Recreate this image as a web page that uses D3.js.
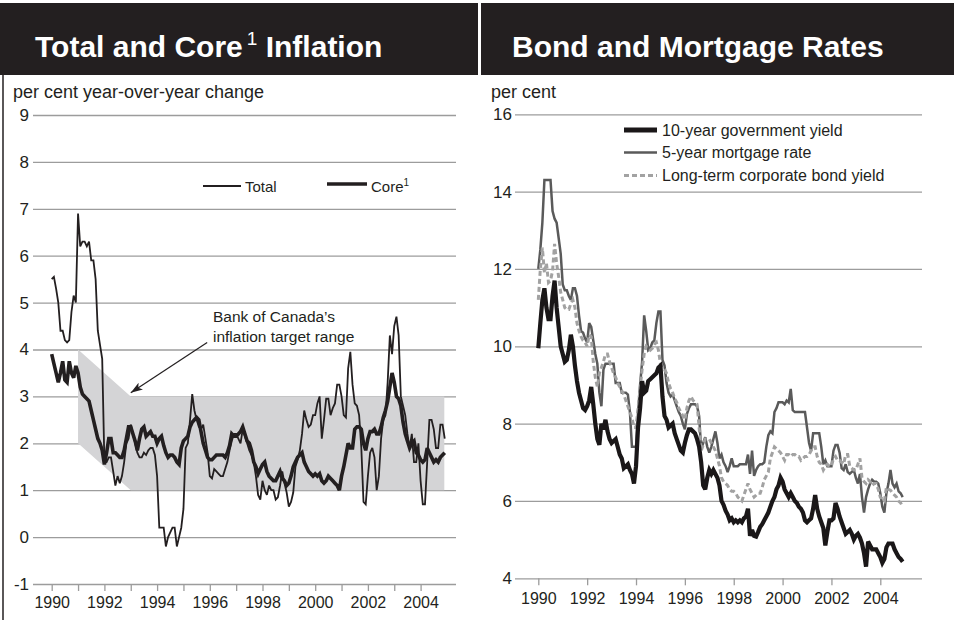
<!DOCTYPE html>
<html lang="en">
<head>
    <meta charset="UTF-8">
    <title>Total and Core Inflation / Bond and Mortgage Rates</title>
    <!-- Load d3.js -->
    <script src="https://d3js.org/d3.v7.min.js"></script>
    <style>
        body { margin: 0; background: #fff; }
        svg text { font-family: "Liberation Sans", Arial, Helvetica, sans-serif; fill: #231f20; }
    </style>
</head>
<body>

<div id="my_chart"></div>

<script>
    // monthly series, Jan 1990 to Dec 2004 (12 values per row)
    var startYear = 1990;

    var total = [
        5.5, 5.55, 5.3, 5.0, 4.4, 4.4, 4.2, 4.15, 4.2, 4.8, 5.15, 5.0,
        6.9, 6.2, 6.3, 6.3, 6.2, 6.3, 5.9, 5.9, 5.5, 4.4, 4.1, 3.8,
        1.6, 1.6, 1.7, 1.7, 1.4, 1.1, 1.3, 1.15, 1.3, 1.6, 2.0, 2.1,
        2.4, 2.2, 2.0, 1.8, 1.7, 1.7, 1.8, 1.75, 1.85, 1.9, 1.9, 1.75,
        1.3, 0.2, 0.2, 0.2, -0.2, 0.0, 0.1, 0.2, 0.2, -0.2, 0.0, 0.2,
        0.6, 1.9, 2.0, 2.5, 3.05, 2.7, 2.5, 2.35, 2.3, 2.4, 2.1, 1.8,
        1.3, 1.25, 1.45, 1.4, 1.35, 1.3, 1.3, 1.45, 1.6, 1.85, 2.05, 2.2,
        2.2, 2.1, 2.0, 2.3, 2.15, 2.0, 1.85, 1.75, 1.6, 1.3, 0.9, 0.8,
        1.2, 1.0, 0.9, 1.1, 1.0, 1.0, 0.8, 0.85, 1.1, 1.4, 1.15, 0.95,
        0.65, 0.75, 0.95, 1.5, 1.65, 1.85, 2.2, 2.7, 2.5, 2.35, 2.4, 2.6,
        2.6, 2.85, 3.0, 2.1, 2.5, 2.95, 2.95, 2.6, 2.75, 2.85, 3.25, 3.25,
        3.0, 2.6, 2.55, 3.6, 3.95, 3.25, 2.85, 2.8, 2.6, 1.9, 0.75, 0.7,
        1.3, 1.8, 1.9, 1.7, 1.0, 1.3, 2.1, 2.5, 2.6, 3.3, 4.3, 3.9,
        4.5, 4.7, 4.3, 3.0, 2.8, 2.6, 2.2, 1.9, 2.2, 1.6, 1.6, 2.0,
        1.2, 0.7, 0.7, 1.6, 2.5, 2.5, 2.3, 1.9, 1.9, 2.4, 2.4, 2.1
    ];

    var core = [
        3.9, 3.7, 3.5, 3.3, 3.5, 3.75, 3.35, 3.3, 3.75, 3.5, 3.4, 3.65,
        3.5, 3.2, 3.05, 3.0, 2.95, 2.9, 2.7, 2.5, 2.3, 2.1, 2.0, 1.85,
        1.55, 1.8, 2.1, 2.1, 1.8, 1.8, 1.75, 1.7, 1.7, 1.85, 2.1, 2.35,
        2.35, 2.2, 2.05, 1.85, 2.1, 2.3, 2.35, 2.15, 2.2, 2.25, 2.15, 2.15,
        2.0, 2.1, 2.15, 1.95, 1.8, 1.7, 1.75, 1.75, 1.7, 1.6, 1.55, 1.9,
        2.05, 2.1, 2.15, 2.35, 2.45, 2.5, 2.55, 2.5, 2.25, 2.0, 1.85, 1.7,
        1.65, 1.65, 1.7, 1.75, 1.75, 1.75, 1.75, 1.7, 1.8, 1.95, 2.2, 2.15,
        2.15, 2.2, 2.25, 2.35, 2.2, 2.05, 2.0, 1.85, 1.6, 1.5, 1.35, 1.45,
        1.55, 1.6, 1.4, 1.3, 1.25, 1.2, 1.2, 1.3, 1.4, 1.25, 1.2, 1.1,
        1.15, 1.3, 1.5, 1.6, 1.7, 1.75, 1.8, 1.6, 1.5, 1.4, 1.35, 1.3,
        1.35, 1.3, 1.35, 1.2, 1.15, 1.2, 1.3, 1.25, 1.2, 1.15, 1.1, 1.0,
        1.3, 1.5, 1.75, 2.0, 1.9, 1.9, 2.3, 2.35, 2.35, 2.3, 2.0, 1.85,
        2.1, 2.25, 2.25, 2.3, 2.2, 2.2, 2.35, 2.55, 2.7, 2.9, 3.2, 3.5,
        3.3, 3.0, 2.95, 2.8, 2.45, 2.2, 2.05, 1.9, 2.0, 2.05, 1.8, 1.75,
        1.65, 1.6, 1.65, 1.9, 1.8, 1.7, 1.6, 1.65, 1.6, 1.7, 1.75, 1.8
    ];

    var govYield = [
        9.95, 10.6, 11.2, 11.5, 11.0, 10.7, 10.7, 11.3, 11.7, 11.0, 10.5, 10.0,
        9.8, 9.6, 9.65, 9.9, 10.3, 10.0, 9.5, 9.1, 8.8, 8.6, 8.4, 8.35,
        8.45, 8.6, 8.95, 8.5, 8.0, 7.6, 7.45, 8.0, 7.85, 8.1, 7.8, 7.6,
        7.5, 7.55, 7.6, 7.4, 7.2, 7.1, 6.85, 6.9, 6.95, 6.8, 6.7, 6.45,
        6.9, 7.9, 8.4, 9.1, 8.8, 8.85, 9.1, 9.15, 9.2, 9.25, 9.3, 9.45,
        9.5, 8.7, 8.2, 8.1, 7.9, 7.95, 8.0, 7.75, 7.6, 7.45, 7.3, 7.25,
        7.5, 7.7, 7.85, 7.85, 7.8, 7.75, 7.6, 7.4, 7.0, 6.4, 6.3, 6.6,
        6.8, 6.7, 6.8, 6.7, 6.6, 6.4, 6.0, 5.9, 5.75, 5.65, 5.5, 5.55,
        5.45, 5.5, 5.45, 5.5, 5.45, 5.55, 5.6, 5.8, 5.1, 5.25, 5.1, 5.08,
        5.2, 5.33, 5.4, 5.5, 5.6, 5.7, 5.85, 6.0, 6.1, 6.3, 6.4, 6.6,
        6.5, 6.3, 6.2, 6.1, 6.2, 6.1, 6.0, 5.95, 5.85, 5.8, 5.7, 5.5,
        5.45, 5.5, 5.55, 5.8, 6.15, 5.8, 5.6, 5.45, 5.3, 4.85, 5.2, 5.5,
        5.5, 5.55, 5.95, 5.8, 5.6, 5.45, 5.3, 5.15, 5.2, 5.25, 5.15, 5.0,
        5.1, 5.15, 5.05, 4.9, 4.65, 4.3, 4.95, 4.85, 4.75, 4.75, 4.75, 4.65,
        4.55, 4.4, 4.5, 4.8, 4.9, 4.9, 4.9, 4.75, 4.65, 4.55, 4.5, 4.43
    ];

    var mortgage = [
        12.0, 12.5, 13.2, 14.3, 14.3, 14.3, 14.3, 13.5, 13.3, 13.2, 12.8, 12.4,
        11.6, 11.45, 11.45, 11.3, 11.2, 11.5, 11.5, 11.3, 10.8, 10.4, 10.35, 10.2,
        10.1, 10.6, 10.5, 10.15, 9.8, 9.55, 8.8, 8.45, 9.4, 9.55, 9.55, 9.55,
        9.55, 9.55, 9.05, 9.05, 9.05, 8.8, 8.8, 8.8, 8.75, 8.3, 7.4, 7.4,
        7.4, 8.3, 9.0, 9.6, 10.8, 10.4, 9.9, 9.95, 10.1, 10.15, 10.6, 10.9,
        10.9, 9.65, 9.5, 9.05, 8.8, 8.7, 8.75, 8.6, 8.45, 8.3, 8.2, 8.0,
        7.85, 8.25, 8.4, 8.5, 8.5, 8.5, 8.45, 8.2, 7.35, 7.5, 7.65, 7.4,
        7.25, 7.4, 7.6, 7.8, 7.5, 7.1, 7.2, 7.0, 6.9, 6.75, 6.9, 7.1,
        6.9, 6.9, 6.9, 6.95, 6.95, 6.95, 6.95, 7.2, 6.7, 7.3, 6.65, 6.8,
        6.9, 6.95, 6.95, 7.0, 7.4, 7.7, 7.8, 7.75, 8.3, 8.4, 8.55, 8.55,
        8.55, 8.5, 8.6, 8.55, 8.9, 8.35, 8.3, 8.3, 8.3, 8.3, 8.3, 8.3,
        7.9, 7.5, 7.3, 7.75, 7.75, 7.75, 7.75, 7.4, 6.95, 7.05, 6.9, 6.9,
        6.9, 7.3, 7.45, 7.45, 7.25, 6.85, 6.8, 6.95, 6.75, 6.7, 6.75, 6.8,
        6.6, 6.45, 6.7, 6.1, 5.7, 6.1, 6.3, 6.45, 6.55, 6.5, 6.5, 6.45,
        6.2, 5.85, 5.7, 6.2, 6.45, 6.8, 6.45, 6.35, 6.45, 6.25, 6.2, 6.1
    ];

    var corpBond = [
        11.2, 12.0, 12.55, 11.9, 12.15, 11.65, 11.7, 11.95, 12.65, 12.15, 11.8, 11.4,
        11.2, 11.0, 10.95, 10.95, 11.1, 11.2, 11.0, 10.6, 10.4, 10.25, 10.15, 10.1,
        10.0, 10.3, 10.25, 9.6, 9.2, 8.95, 9.3, 9.45, 9.6, 9.8, 9.8, 9.6,
        9.45, 9.3, 9.2, 9.05, 8.95, 8.85, 8.75, 8.6, 8.45, 8.3, 8.15, 7.9,
        7.9, 8.4, 8.9, 9.4, 9.8, 10.0, 9.95, 9.9, 9.95, 10.05, 10.1, 9.9,
        9.55, 9.45, 9.4, 9.3, 9.05, 8.9, 8.8, 8.65, 8.55, 8.4, 8.3, 8.2,
        8.1, 8.4, 8.6, 8.7, 8.6, 8.55, 8.5, 7.9, 7.3, 7.45, 7.6, 7.6,
        7.6, 7.5, 7.4, 7.3, 7.1, 6.9, 6.6, 6.5, 6.45, 6.4, 6.3, 6.25,
        6.25, 6.2, 6.1, 6.05, 6.0, 6.15, 6.3, 6.45, 6.3, 6.2, 6.1, 6.15,
        6.2, 6.2, 6.35, 6.55, 6.65, 6.75, 7.1, 7.25, 7.4, 7.35, 7.3, 7.25,
        7.15, 7.05, 7.2, 7.2, 7.15, 7.2, 7.2, 7.15, 7.15, 7.05, 7.1, 7.15,
        7.15, 7.2, 7.3, 7.4, 7.4, 7.15, 7.0, 6.95, 6.8, 6.9, 6.95, 6.9,
        6.9, 7.1, 7.15, 7.05, 7.05, 7.0, 6.95, 7.2, 7.2, 6.9, 6.85, 6.8,
        6.8, 6.95, 7.1, 6.6, 6.5, 6.45, 6.55, 6.5, 6.4, 6.45, 6.45, 6.3,
        6.1, 6.05, 6.0, 6.35, 6.3, 6.28, 6.2, 6.15, 6.1, 6.0, 5.95, 5.85
    ];

    // Bank of Canada target band (year, lower, upper)
    var bandYears = [1991, 1993, 2004.9];
    var bandLow = [2, 1, 1];
    var bandHigh = [4, 3, 3];

    // ticks
    var inflationTicks = [-1, 0, 1, 2, 3, 4, 5, 6, 7, 8, 9];
    var rateTicks = [4, 6, 8, 10, 12, 14, 16];
    var leftYearTicks = d3.range(1990, 2005);
    var rightYearTicks = [1990, 1992, 1994, 1996, 1998, 2000, 2002, 2004];

    var gridColor = "#9c9c9c";
    var ink = "#231f20";

    var svg = d3.select("#my_chart")
        .append("svg")
        .attr("width", 954)
        .attr("height", 620);

    function monthTime(i) { return startYear + i / 12; }

    // ---------- headers ----------
    svg.append("rect").attr("x", 0).attr("y", 3).attr("width", 478).attr("height", 72).style("fill", ink);
    svg.append("rect").attr("x", 481).attr("y", 3).attr("width", 473).attr("height", 72).style("fill", ink);

    var title1 = svg.append("text")
        .attr("x", 35).attr("y", 57)
        .attr("font-size", 30).attr("font-weight", "bold")
        .style("fill", "#fff");
    title1.append("tspan").text("Total and Core");
    title1.append("tspan").attr("font-size", 19).attr("font-weight", "normal").attr("dx", 4).attr("dy", -12).style("fill", "#fff").text("1");
    title1.append("tspan").attr("dy", 12).style("fill", "#fff").text(" Inflation");

    svg.append("text")
        .attr("x", 512).attr("y", 57)
        .attr("font-size", 30).attr("font-weight", "bold")
        .style("fill", "#fff")
        .text("Bond and Mortgage Rates");

    // left panel border
    svg.append("line")
        .attr("x1", 3).attr("x2", 3).attr("y1", 75).attr("y2", 620)
        .style("stroke", ink).style("stroke-width", 1.5);

    // ---------- left chart: inflation ----------
    var xL = d3.scaleLinear().domain([1990, 2004]).range([51.7, 420.6]);
    var yL = d3.scaleLinear().domain([-1, 9]).range([584, 115]);

    svg.append("text")
        .attr("x", 13).attr("y", 98)
        .attr("font-size", 18)
        .text("per cent year-over-year change");

    var gridL = svg.append("g")
        .attr("transform", "translate(456,0)")
        .call(d3.axisLeft(yL).tickValues(inflationTicks).tickSize(423).tickPadding(4)
            .tickFormat(function(d) { return String(d); }));
    gridL.select(".domain").remove();
    gridL.selectAll("line").style("stroke", gridColor).style("stroke-width", 1.3);
    gridL.selectAll("text").attr("font-size", 17).style("fill", ink).style("font-family", "Liberation Sans, Arial, sans-serif");

    var axisXL = svg.append("g")
        .attr("transform", "translate(0,584)")
        .call(d3.axisBottom(xL).tickValues(leftYearTicks).tickSize(7).tickPadding(6)
            .tickFormat(function(d) { return d % 2 === 0 ? d : ""; }));
    axisXL.select(".domain").remove();
    axisXL.selectAll("line").style("stroke", gridColor).style("stroke-width", 1.3);
    axisXL.selectAll("text").attr("font-size", 16).style("fill", ink).style("font-family", "Liberation Sans, Arial, sans-serif");

    // target band
    var band = d3.area()
        .x(function(d, i) { return xL(bandYears[i]); })
        .y0(function(d, i) { return yL(bandLow[i]); })
        .y1(function(d, i) { return yL(bandHigh[i]); });
    svg.append("path")
        .datum(bandYears)
        .attr("d", band)
        .style("fill", "#d4d4d6");

    var lineL = d3.line()
        .x(function(d, i) { return xL(monthTime(i)); })
        .y(function(d) { return yL(d); });

    svg.append("path")
        .datum(core)
        .attr("d", lineL)
        .style("fill", "none").style("stroke", ink).style("stroke-width", 3.6)
        .style("stroke-linejoin", "miter").style("stroke-miterlimit", 3);

    svg.append("path")
        .datum(total)
        .attr("d", lineL)
        .style("fill", "none").style("stroke", ink).style("stroke-width", 1.8)
        .style("stroke-linejoin", "miter").style("stroke-miterlimit", 3);

    // legend (left)
    svg.append("line").attr("x1", 203).attr("x2", 241).attr("y1", 186).attr("y2", 186)
        .style("stroke", ink).style("stroke-width", 1.8);
    svg.append("text").attr("x", 245).attr("y", 192).attr("font-size", 15).text("Total");
    svg.append("line").attr("x1", 327).attr("x2", 367).attr("y1", 184).attr("y2", 184)
        .style("stroke", ink).style("stroke-width", 3.6);
    var coreLabel = svg.append("text").attr("x", 371).attr("y", 192).attr("font-size", 15);
    coreLabel.append("tspan").text("Core");
    coreLabel.append("tspan").attr("font-size", 10).attr("dy", -6).text("1");

    // annotation with arrow
    var annotFrom = [1995.9, 4.15];
    var annotTo = [1993.0, 3.08];
    var annotText = [1996.12, 4.58];

    svg.append("defs").append("marker")
        .attr("id", "arrowhead")
        .attr("viewBox", "0 0 12 8")
        .attr("refX", 12).attr("refY", 4)
        .attr("markerWidth", 12).attr("markerHeight", 8)
        .attr("markerUnits", "userSpaceOnUse")
        .attr("orient", "auto")
        .append("path")
        .attr("d", "M0,0 L12,4 L0,8 L3,4 Z")
        .style("fill", ink);

    svg.append("line")
        .attr("x1", xL(annotFrom[0])).attr("y1", yL(annotFrom[1]))
        .attr("x2", xL(annotTo[0])).attr("y2", yL(annotTo[1]))
        .style("stroke", ink).style("stroke-width", 1.2)
        .attr("marker-end", "url(#arrowhead)");

    svg.append("text")
        .attr("x", xL(annotText[0])).attr("y", yL(annotText[1]))
        .attr("font-size", 15.5)
        .text("Bank of Canada\u2019s");
    svg.append("text")
        .attr("x", xL(annotText[0])).attr("y", yL(annotText[1]) + 20)
        .attr("font-size", 15.5)
        .text("inflation target range");

    // ---------- right chart: rates ----------
    var xR = d3.scaleLinear().domain([1990, 2004]).range([538.3, 880.3]);
    var yR = d3.scaleLinear().domain([4, 16]).range([578.3, 114.3]);

    svg.append("text")
        .attr("x", 491).attr("y", 98)
        .attr("font-size", 18)
        .text("per cent");

    var gridR = svg.append("g")
        .attr("transform", "translate(922,0)")
        .call(d3.axisLeft(yR).tickValues(rateTicks).tickSize(407).tickPadding(3));
    gridR.select(".domain").remove();
    gridR.selectAll("line").style("stroke", gridColor).style("stroke-width", 1.3);
    gridR.selectAll("text").attr("font-size", 17).style("fill", ink).style("font-family", "Liberation Sans, Arial, sans-serif");

    var axisXR = svg.append("g")
        .attr("transform", "translate(0,578.3)")
        .call(d3.axisBottom(xR).tickValues(rightYearTicks).tickSize(7).tickPadding(7).tickFormat(d3.format("d")));
    axisXR.select(".domain").remove();
    axisXR.selectAll("line").style("stroke", gridColor).style("stroke-width", 1.3);
    axisXR.selectAll("text").attr("font-size", 16).style("fill", ink).style("font-family", "Liberation Sans, Arial, sans-serif");

    var lineR = d3.line()
        .x(function(d, i) { return xR(monthTime(i)); })
        .y(function(d) { return yR(d); });

    svg.append("path")
        .datum(mortgage)
        .attr("d", lineR)
        .style("fill", "none").style("stroke", "#5a5a5a").style("stroke-width", 2.5)
        .style("stroke-miterlimit", 3);

    svg.append("path")
        .datum(corpBond)
        .attr("d", lineR)
        .style("fill", "none").style("stroke", "#a2a2a2").style("stroke-width", 3)
        .style("stroke-dasharray", "5,3").style("stroke-miterlimit", 3);

    svg.append("path")
        .datum(govYield)
        .attr("d", lineR)
        .style("fill", "none").style("stroke", "#1a1718").style("stroke-width", 4.2)
        .style("stroke-miterlimit", 3);

    // legend (right)
    var legendR = [
        {label: "10-year government yield", color: "#1a1718", width: 5, dash: null},
        {label: "5-year mortgage rate", color: "#5a5a5a", width: 2.5, dash: null},
        {label: "Long-term corporate bond yield", color: "#a2a2a2", width: 3, dash: "5,3"}
    ];
    var legendY = [130, 152.5, 175.5];

    legendR.forEach(function(d, i) {
        svg.append("line")
            .attr("x1", 624).attr("x2", 657)
            .attr("y1", legendY[i]).attr("y2", legendY[i])
            .style("stroke", d.color).style("stroke-width", d.width)
            .style("stroke-dasharray", d.dash);
        svg.append("text")
            .attr("x", 662).attr("y", legendY[i] + 5.5)
            .attr("font-size", 16)
            .text(d.label);
    });
</script>

</body>
</html>
